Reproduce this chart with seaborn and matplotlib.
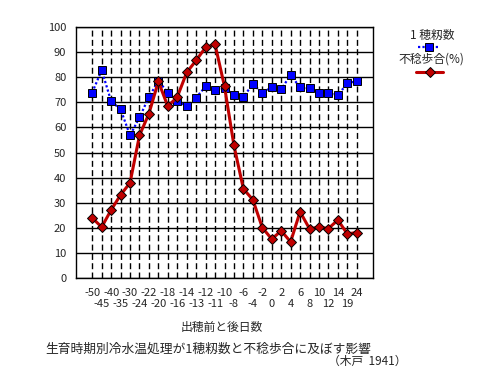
import numpy as np
import pandas as pd
import matplotlib
matplotlib.use("Agg")
import matplotlib.pyplot as plt
import seaborn as sns
from matplotlib.lines import Line2D

# ---------------------------------------------------
# Data
# ---------------------------------------------------
days = ["-50", "-45", "-40", "-35", "-30", "-24", "-22", "-20", "-18", "-16",
        "-14", "-13", "-12", "-11", "-10", "-8", "-6", "-4", "-2", "0",
        "2", "4", "6", "8", "10", "12", "14", "19", "24"]

grains = [73.9, 82.8, 70.4, 67.2, 56.8, 64.0, 72.1, 78.5, 73.9, 70.4,
          68.5, 71.9, 76.3, 74.8, 75.5, 73.1, 72.3, 77.1, 73.9, 75.9,
          75.2, 80.9, 75.9, 75.5, 73.9, 73.6, 72.8, 77.6, 78.4]

sterility = [23.9, 20.3, 27.1, 33.1, 37.9, 56.8, 65.5, 78.3, 68.4, 72.1,
             81.9, 86.7, 91.9, 93.1, 76.3, 52.8, 35.5, 31.2, 20.1, 15.5,
             18.8, 14.4, 26.4, 19.6, 20.3, 19.7, 23.1, 17.6, 18.1]

df = pd.DataFrame({"pos": np.arange(len(days)), "grains": grains, "sterility": sterility})

# ---------------------------------------------------
# Style
# ---------------------------------------------------
sns.set_style("white")
plt.rcParams["font.family"] = ["Noto Sans CJK JP", "DejaVu Sans"]

blue = "#0000FF"
red = "#C00000"

fig = plt.figure(figsize=(4.83, 3.76), dpi=100)
ax = fig.add_axes([76 / 483, 1 - 278 / 376, 297 / 483, 251 / 376])

# blue dotted series (behind)
sns.lineplot(data=df, x="pos", y="grains", ax=ax, sort=False,
             color=blue, linestyle=(0, (1, 1)), linewidth=1.6,
             marker="s", markersize=6, markerfacecolor=blue,
             markeredgecolor="black", markeredgewidth=0.7, zorder=3)

# red solid series (on top)
sns.lineplot(data=df, x="pos", y="sterility", ax=ax, sort=False,
             color=red, linewidth=2.2,
             marker="D", markersize=5.5, markerfacecolor=red,
             markeredgecolor="black", markeredgewidth=0.7, zorder=4)

# ---------------------------------------------------
# Axes, grid and ticks
# ---------------------------------------------------
ax.set_xlim(-1.72, len(days) - 1 + 1.72)
ax.set_ylim(0, 100)
ax.set_yticks(np.arange(0, 101, 10))
ax.yaxis.grid(True, color="black", linewidth=1)

# even categories on the upper label row, odd ones on the lower row
pos = df["pos"].to_numpy()
ax.set_xticks(pos[::2])
ax.set_xticklabels(days[::2], fontsize=8)
ax.set_xticks(pos[1::2], minor=True)
ax.set_xticklabels(days[1::2], minor=True, fontsize=8)
ax.xaxis.grid(True, which="both", color="black", linewidth=1,
              linestyle=(0, (4.3, 2.4)))
ax.set_axisbelow(True)

ax.tick_params(axis="x", which="major", length=0, pad=7)
ax.tick_params(axis="x", which="minor", length=0, pad=15)
ax.tick_params(axis="y", length=0, pad=7, labelsize=8)
for s in ax.spines.values():
    s.set_color("black")
    s.set_linewidth(1)

ax.set_xlabel("")
ax.set_ylabel("")

# ---------------------------------------------------
# Legend (label above symbol, like the original)
# ---------------------------------------------------
W, H = 483, 376
fig.text(432 / W, 1 - 35 / H, "1 穂籾数", ha="center", va="center", fontsize=8.5)
fig.add_artist(Line2D([418 / W, 440 / W], [1 - 47 / H, 1 - 47 / H],
                      transform=fig.transFigure, color=blue,
                      linestyle=(0, (1, 1)), linewidth=1.6))
fig.add_artist(Line2D([429 / W], [1 - 47 / H], transform=fig.transFigure,
                      marker="s", markersize=6, markerfacecolor=blue,
                      markeredgecolor="black", markeredgewidth=0.7, linestyle="none"))
fig.text(431 / W, 1 - 59 / H, "不稔歩合(%)", ha="center", va="center", fontsize=8.5)
fig.add_artist(Line2D([416 / W, 443 / W], [1 - 72 / H, 1 - 72 / H],
                      transform=fig.transFigure, color=red, linewidth=2.2))
fig.add_artist(Line2D([429.5 / W], [1 - 72 / H], transform=fig.transFigure,
                      marker="D", markersize=5.5, markerfacecolor=red,
                      markeredgecolor="black", markeredgewidth=0.7, linestyle="none"))

# ---------------------------------------------------
# Axis title and caption
# ---------------------------------------------------
fig.text(222 / W, 1 - 327 / H, "出穂前と後日数", ha="center", va="center", fontsize=8.5)
fig.text(208 / W, 1 - 349 / H, "生育時期別冷水温処理が1穂籾数と不稔歩合に及ぼす影響",
         ha="center", va="center", fontsize=9.2)
fig.text(367 / W, 1 - 361 / H, "（木戸  1941）", ha="center", va="center", fontsize=8.5)

fig.savefig("out.png", dpi=100)
